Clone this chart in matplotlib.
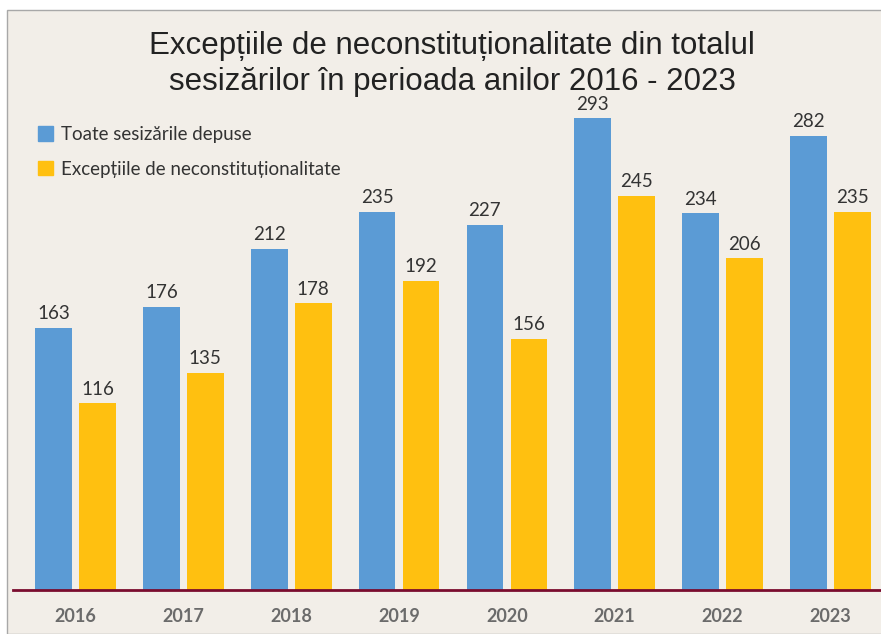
import numpy as np
import matplotlib.pyplot as plt
from matplotlib.patches import Rectangle, Patch

years = ['2016', '2017', '2018', '2019', '2020', '2021', '2022', '2023']
total = [163, 176, 212, 235, 227, 293, 234, 282]
exceptii = [116, 135, 178, 192, 156, 245, 206, 235]
labels = ['Toate sesizările depuse', 'Excepțiile de neconstituționalitate']

blue = '#5B9BD5'
yellow = '#FFC010'
bg = '#F2EEE8'

W, H = 881, 634
fig = plt.figure(figsize=(W / 100, H / 100), dpi=100)
fig.patch.set_facecolor('white')
fig.patches.append(Rectangle((7 / W, 0), 1, 1 - 10 / H, transform=fig.transFigure,
                             facecolor=bg, edgecolor='#a8a8a8', linewidth=1, zorder=-1))

ax = fig.add_axes([13 / W, 44 / H, (W - 13) / W, 563.5 / H])
ax.set_facecolor('none')

x = np.arange(len(years))
bw = 0.34
off = 0.204
b1 = ax.bar(x - off, total, bw, color=blue, label=labels[0])
b2 = ax.bar(x + off, exceptii, bw, color=yellow, label=labels[1])

for bars in (b1, b2):
    for r in bars:
        ax.annotate(str(int(r.get_height())), (r.get_x() + r.get_width() / 2, r.get_height()),
                    xytext=(0, 4), textcoords='offset points', ha='center', va='bottom',
                    fontsize=13.5, color='#333333', family='Lato')

ax.set_xlim(-0.58, 7.47)
ax.set_ylim(0, 350)
for s in ['top', 'right', 'left']:
    ax.spines[s].set_visible(False)
ax.spines['bottom'].set_color('#7A0C2E')
ax.spines['bottom'].set_linewidth(2)
ax.set_yticks([])
ax.set_xticks(x, years)
ax.tick_params(axis='x', length=0, pad=13)
for t in ax.get_xticklabels():
    t.set_fontsize(13)
    t.set_fontweight('bold')
    t.set_color('#6B6B6B')
    t.set_family('Lato')

fig.text(452 / W, 1 - 64 / H, 'Excepțiile de neconstituționalitate din totalul\nsesizărilor în perioada anilor 2016 - 2023',
         ha='center', va='center', fontsize=22.5, color='#222222', linespacing=1.3,
         family=['Liberation Sans', 'DejaVu Sans'])

handles = [Patch(color=blue), Patch(color=yellow)]
ax.legend(handles, labels, loc='upper left', bbox_to_anchor=(21 / W, 1 - 109 / H),
          bbox_transform=fig.transFigure, frameon=False, handlelength=0.8, handleheight=0.8,
          handletextpad=0.45, labelspacing=0.95, prop={'family': 'Lato', 'size': 13.5},
          labelcolor='#333333')

fig.savefig('out.png', dpi=100)
